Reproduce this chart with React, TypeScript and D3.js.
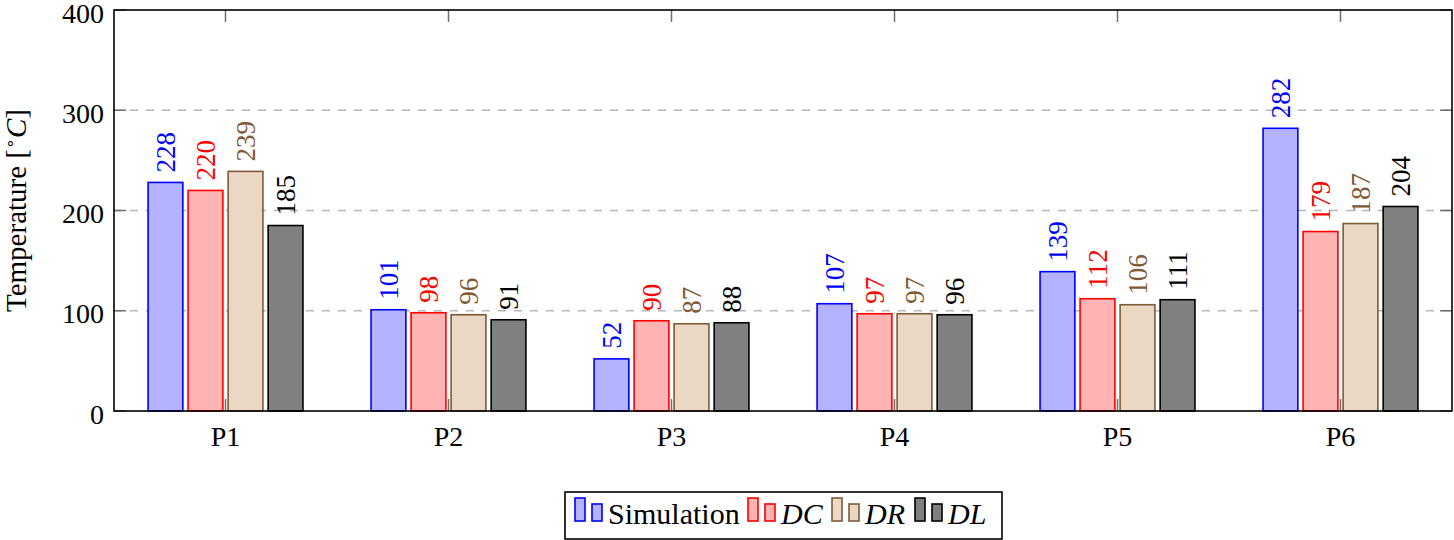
import React from "react";
import * as d3 from "d3";

const categories = ["P1", "P2", "P3", "P4", "P5", "P6"];
const seriesNames = ["Simulation", "DC", "DR", "DL"];
const simulation = [228, 101, 52, 107, 139, 282];
const dc = [220, 98, 90, 97, 112, 179];
const dr = [239, 96, 87, 97, 106, 187];
const dl = [185, 91, 88, 96, 111, 204];
const yTicks = [0, 100, 200, 300, 400];

const seriesValues = [simulation, dc, dr, dl];
const fills = ["#b3b3ff", "#ffb3b3", "#ead8c5", "#808080"];
const strokes = ["#0000ff", "#ff0000", "#7f5a35", "#000000"];
const italic = [false, true, true, true];

const FONT = "Liberation Serif";

const width = 1454;
const height = 540;
const left = 114;
const right = 1452;
const top = 10;
const bottom = 411;

const App: React.FC = () => {
  // x: categories with half a step of padding on each side
  const x = d3.scalePoint<string>().domain(categories).range([left, right]).padding(0.5);
  const y = d3.scaleLinear().domain([0, 400]).range([bottom, top]);

  const step = x.step();
  const barW = step * 0.156;
  const barGap = step * 0.1795;
  const tickColor = "#6e6e6e";
  const legendX = [575, 748, 832, 915];

  return (
    <svg width={width} height={height} style={{ position: "absolute", left: 0, top: 0 }}>
      {/* grid */}
      {yTicks
        .filter((t) => t > 0 && t < 400)
        .map((t) => (
          <line
            key={"g" + t}
            x1={left}
            x2={right}
            y1={y(t)}
            y2={y(t)}
            stroke="#b5b5b5"
            strokeWidth={1.5}
            strokeDasharray="8,8"
          />
        ))}

      {/* bars and value labels */}
      {seriesValues.map((vals, si) => {
        const offset = (si - 1.5) * barGap;
        return (
          <g key={"s" + si}>
            {vals.map((v, i) => {
              const cx = (x(categories[i]) as number) + offset;
              return (
                <g key={i}>
                  <rect
                    x={cx - barW / 2}
                    y={y(v)}
                    width={barW}
                    height={bottom - y(v)}
                    fill={fills[si]}
                    stroke={strokes[si]}
                    strokeWidth={1.6}
                  />
                  <text
                    transform={`translate(${cx},${y(v) - 10}) rotate(-90)`}
                    dy="0.35em"
                    fontFamily={FONT}
                    fontSize={27}
                    fill={strokes[si]}
                  >
                    {v}
                  </text>
                </g>
              );
            })}
          </g>
        );
      })}

      {/* ticks */}
      <g stroke={tickColor} strokeWidth={1.5}>
        {yTicks.map((t) => (
          <g key={"yt" + t}>
            <line x1={left} x2={left + 12} y1={y(t)} y2={y(t)} />
            <line x1={right - 12} x2={right} y1={y(t)} y2={y(t)} />
          </g>
        ))}
        {categories.map((c) => {
          const cx = x(c) as number;
          return (
            <g key={"xt" + c}>
              <line x1={cx} x2={cx} y1={bottom} y2={bottom - 12} />
              <line x1={cx} x2={cx} y1={top} y2={top + 12} />
            </g>
          );
        })}
      </g>

      {/* frame */}
      <rect
        x={left}
        y={top}
        width={right - left}
        height={bottom - top}
        fill="none"
        stroke="#000"
        strokeWidth={1.6}
      />

      {/* y tick labels */}
      {yTicks.map((t) => (
        <text
          key={"yl" + t}
          x={left - 10}
          y={y(t)}
          dy="0.45em"
          textAnchor="end"
          fontFamily={FONT}
          fontSize={28}
        >
          {t}
        </text>
      ))}

      {/* x tick labels */}
      {categories.map((c) => (
        <text
          key={"xl" + c}
          x={x(c) as number}
          y={bottom + 35}
          textAnchor="middle"
          fontFamily={FONT}
          fontSize={28}
        >
          {c}
        </text>
      ))}

      {/* y axis label */}
      <text
        transform={`translate(26,${(top + bottom) / 2}) rotate(-90)`}
        textAnchor="middle"
        fontFamily={FONT}
        fontSize={29}
      >
        <tspan>Temperature [</tspan>
        <tspan fontSize={17} dy={-11}>
          ∘
        </tspan>
        <tspan dy={11} fontStyle="italic">
          C
        </tspan>
        <tspan>]</tspan>
      </text>

      {/* legend */}
      <rect x={565} y={492} width={437} height={47} fill="#fff" stroke="#000" strokeWidth={1.6} />
      {seriesNames.map((name, si) => {
        const lx = legendX[si];
        return (
          <g key={"lg" + name}>
            <rect x={lx} y={498} width={10} height={23} fill={fills[si]} stroke={strokes[si]} strokeWidth={1.6} />
            <rect x={lx + 17} y={504} width={10} height={17} fill={fills[si]} stroke={strokes[si]} strokeWidth={1.6} />
            <text
              x={lx + 33}
              y={524}
              fontFamily={FONT}
              fontSize={30}
              fontStyle={italic[si] ? "italic" : "normal"}
            >
              {name}
            </text>
          </g>
        );
      })}
    </svg>
  );
};

export default App;
